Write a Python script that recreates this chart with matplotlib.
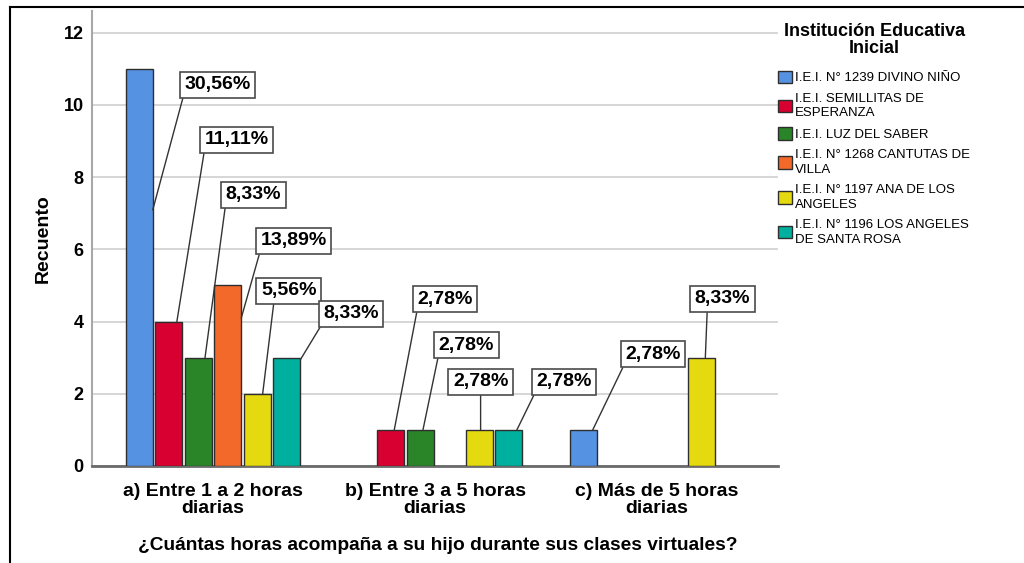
import matplotlib
matplotlib.use("Agg")
import matplotlib.pyplot as plt
from matplotlib.lines import Line2D
from matplotlib.patches import Patch
import numpy as np

plt.rcParams["font.family"] = ["Liberation Sans", "DejaVu Sans"]

# ── data ──────────────────────────────────────────────────────────────────────
categories = ["a) Entre 1 a 2 horas\ndiarias",
              "b) Entre 3 a 5 horas\ndiarias",
              "c) Más de 5 horas\ndiarias"]
schools = ["I.E.I. N° 1239 DIVINO NIÑO",
           "I.E.I. SEMILLITAS DE\nESPERANZA",
           "I.E.I. LUZ DEL SABER",
           "I.E.I. N° 1268 CANTUTAS DE\nVILLA",
           "I.E.I. N° 1197 ANA DE LOS\nANGELES",
           "I.E.I. N° 1196 LOS ANGELES\nDE SANTA ROSA"]
divino_nino = [11, 0, 1]
semillitas = [4, 1, 0]
luz_del_saber = [3, 1, 0]
cantutas = [5, 0, 0]
ana_de_los_angeles = [2, 1, 3]
santa_rosa = [3, 1, 0]
counts = [divino_nino, semillitas, luz_del_saber, cantutas, ana_de_los_angeles, santa_rosa]

colors = ["#5692e2", "#d70031", "#2a8529", "#f2692a", "#e5d90f", "#00b09f"]

# label placement: (series, category) -> (anchor frac x, anchor frac y, dx px, dy px, relpos x)
label_place = {
    (0, 0): (1.00, 0.645, 64.5, 125, 0.0),
    (1, 0): (0.80, 1.0, 60, 182, 0.0),
    (2, 0): (0.75, 1.0, 48.5, 163, 0.0),
    (3, 0): (1.00, 0.82, 52.5, 77, 0.0),
    (4, 0): (0.70, 1.0, 26, 103, 0.24),
    (5, 0): (1.00, 0.98, 50.5, 46, 0.0),
    (1, 1): (0.63, 1.0, 51, 130.5, 0.0),
    (2, 1): (0.60, 1.0, 43.5, 84.5, 0.0),
    (4, 1): (0.55, 1.0, 0, 48, 0.5),
    (5, 1): (0.80, 1.0, 47, 48, 0.0),
    (0, 2): (0.85, 1.0, 60, 75.5, 0.0),
    (4, 2): (0.65, 1.0, 17, 59, 0.23),
}

total = sum(sum(c) for c in counts)

# ── plot ──────────────────────────────────────────────────────────────────────
fig = plt.figure(figsize=(10.24, 5.63), dpi=100)
ax = fig.add_axes([92 / 1024, 97 / 563, 686 / 1024, 455 / 563])

slot = 0.1329
width = 0.122
x = np.arange(len(categories))

for i, (vals, col) in enumerate(zip(counts, colors)):
    for j, v in enumerate(vals):
        if v <= 0:
            continue
        xc = x[j] + (i - 2.5) * slot
        ax.bar(xc, v, width, color=col, edgecolor="#2e2e2e", linewidth=1, zorder=3)
        fx, fy, dx, dy, rx = label_place[(i, j)]
        pct = f"{100 * v / total:.2f}%".replace(".", ",")
        ax.annotate(pct, xy=(xc - width / 2 + fx * width, fy * v),
                    xytext=(dx, dy), textcoords="offset pixels",
                    ha="center", va="center", fontsize=14, fontweight="bold",
                    bbox=dict(boxstyle="square,pad=0.23", fc="white", ec="#4a4a4a", lw=1.2),
                    arrowprops=dict(arrowstyle="-", color="#333333", lw=1,
                                    shrinkA=0, shrinkB=0, relpos=(rx, 0)),
                    zorder=5)

ax.set_xlim(-0.545, 2.545)
ax.set_ylim(0, 12.6)
ax.set_yticks([0, 2, 4, 6, 8, 10, 12])
ax.set_xticks(x)
ax.set_xticklabels(categories, fontsize=14, fontweight="bold", linespacing=1.05)
for t in ax.get_yticklabels():
    t.set_fontweight("bold")
ax.tick_params(axis="y", length=0, pad=6, labelsize=13)
ax.tick_params(axis="x", length=0, pad=12)

ax.set_axisbelow(True)
ax.yaxis.grid(True, color="#cfcfcf", linewidth=1.2)
for s in ["top", "right"]:
    ax.spines[s].set_visible(False)
ax.spines["left"].set_color("#a8a8a8")
ax.spines["left"].set_linewidth(1.5)
ax.spines["bottom"].set_color("#6a6a6a")
ax.spines["bottom"].set_linewidth(2)

ax.set_ylabel("Recuento", fontsize=14, fontweight="bold")
ax.yaxis.set_label_coords(-0.058, 0.5)
fig.text(438 / 1024, 1 - 546 / 563,
         "¿Cuántas horas acompaña a su hijo durante sus clases virtuales?",
         ha="center", va="center", fontsize=13.8, fontweight="bold")

handles = [Patch(facecolor=c, edgecolor="#2e2e2e", linewidth=1) for c in colors]
leg = ax.legend(handles, schools, loc="upper left",
                bbox_to_anchor=(778 / 1024, 1 - 23 / 563), bbox_transform=fig.transFigure,
                frameon=False, title="Institución Educativa\nInicial",
                title_fontproperties={"weight": "bold", "size": 13},
                prop={"size": 9.5}, handlelength=1.05, handleheight=1.05,
                handletextpad=0.25, labelspacing=0.62, borderpad=0, borderaxespad=0,
                alignment="center")
for t in leg.get_texts():
    t.set_linespacing(1.3)
leg.get_title().set_linespacing(1.0)
leg.get_title().set_multialignment("center")
leg._legend_box.sep += 4

# outer frame (top and left edges)
fig.add_artist(Line2D([10 / 1024, 1], [1 - 7 / 563] * 2, transform=fig.transFigure,
                      color="black", lw=1.5))
fig.add_artist(Line2D([10 / 1024] * 2, [0, 1 - 7 / 563], transform=fig.transFigure,
                      color="black", lw=1.5))

fig.savefig("out.png", dpi=100)
